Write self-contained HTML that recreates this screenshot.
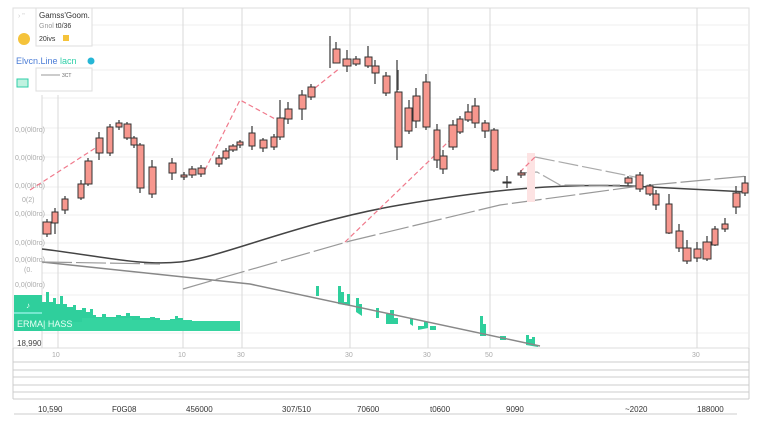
<!DOCTYPE html>
<html><head><meta charset="utf-8"><style>
body{margin:0;background:#fff;width:760px;height:426px;overflow:hidden;font-family:"Liberation Sans",sans-serif}
</style></head><body>
<svg width="760" height="426" viewBox="0 0 760 426" xmlns="http://www.w3.org/2000/svg" font-family="Liberation Sans, sans-serif">
<rect x="13" y="8" width="736" height="340" fill="#fff" stroke="#ddd"/>
<g stroke="#efefef" stroke-width="1">
<line x1="42" y1="25" x2="749" y2="25"/><line x1="42" y1="45" x2="749" y2="45"/><line x1="42" y1="70" x2="749" y2="70"/>
<line x1="42" y1="98" x2="749" y2="98"/><line x1="42" y1="128" x2="749" y2="128"/><line x1="42" y1="157" x2="749" y2="157"/>
<line x1="42" y1="187" x2="749" y2="187"/><line x1="42" y1="215" x2="749" y2="215"/><line x1="42" y1="243" x2="749" y2="243"/>
<line x1="42" y1="273" x2="749" y2="273"/><line x1="42" y1="295" x2="749" y2="295"/><line x1="42" y1="333" x2="749" y2="333"/>
</g>
<g stroke="#d8d8d8"><line x1="42" y1="95" x2="42" y2="348"/>
<line x1="58" y1="95" x2="58" y2="348"/><line x1="183" y1="8" x2="183" y2="348"/><line x1="242" y1="8" x2="242" y2="348"/>
<line x1="350" y1="8" x2="350" y2="348"/><line x1="428" y1="8" x2="428" y2="348"/><line x1="490" y1="8" x2="490" y2="348"/><line x1="697" y1="8" x2="697" y2="348"/></g>
<g font-size="7" fill="#aaa">
<text x="15" y="132">0,0(0l0ro)</text><text x="15" y="160">0,0(0l0ro)</text><text x="15" y="188">0,0(0l0ro)</text><text x="22" y="202">0(2)</text>
<text x="15" y="216">0,0(0l0ro)</text><text x="15" y="245">0,0(0l0ro)</text><text x="15" y="262">0,0(0l0ro)</text><text x="24" y="272">(0.</text><text x="15" y="287">0,0(0l0ro)</text>
<text x="52" y="357">10</text><text x="178" y="357">10</text><text x="237" y="357">30</text><text x="345" y="357">30</text><text x="423" y="357">30</text><text x="485" y="357">50</text><text x="692" y="357">30</text>
</g>
<!-- volume -->
<rect x="14" y="295" width="28" height="36" fill="#2fcf9c"/>
<line x1="14" y1="313" x2="42" y2="313" stroke="#bff" stroke-width="1"/>
<path d="M42 331V302h4v-10h3v10h4v-4h3v6h4v-8h3v8h4v3h6v-2h3v5h6v-2h4v4h4v-3h3v6h3v2h6v-3h4v3h10v-2h5v1h5v-3h4v3h10v2h10v-1h5v1h5v3h10v-2h5v-3h3v2h5v2h5v2h10v7z" fill="#2fcf9c"/>
<path d="M42 322h40v-4h50v2h60v1h48v10H42z" fill="#35d4a0"/>
<text x="17" y="327" font-size="9" fill="#e8fff5">ERMA| HASS</text>
<text x="26" y="308" font-size="8" fill="#e8fff5">♪</text>
<text x="17" y="346" font-size="8" fill="#444">18,990</text>
<path d="M316 296v-10h3v10zM338 304v-18h3v6h3v10h3v-8h3v12zM356 312v-14h3v6h3v12zM376 318v-10h3v10zM386 324v-10h4v-4h4v8h4v6zM410 324v-6h3v8zM418 330v-4h6v-4h4v6zM430 330v-4h6v4zM480 336v-20h3v8h3v12zM500 340v-4h6v4zM526 345v-10h3v4h3v-2h3v8h3v2z" fill="#2fcf9c"/>
<!-- trend lines -->
<path d="M42 262 L250 284 L540 346" stroke="#888" stroke-width="1.5" fill="none"/>
<path d="M42 249 C100 256 140 266 180 262 S300 222 400 205 S560 184 630 186 L748 192" stroke="#444" stroke-width="1.5" fill="none"/>
<path d="M42 262 L160 264" stroke="#999" stroke-width="1.2" fill="none" stroke-dasharray="30 4"/>
<path d="M183 289 L350 241 L500 205 L640 186 L748 176" stroke="#999" stroke-width="1.2" fill="none" stroke-dasharray="30 4"/>
<path d="M535 157 L640 178 M520 173 L537 172 L560 185 L620 185" stroke="#aaa" stroke-width="1.2" fill="none" stroke-dasharray="20 4"/>
<rect x="527" y="153" width="8" height="49" fill="#fde3e3"/>
<path d="M30 190 L97 147 M205 170 L240 100 L277 120 M315 88 L340 68 M345 242 L430 160 L450 140 M520 172 L535 157" stroke="#f07a8c" stroke-width="1.2" fill="none" stroke-dasharray="5 3"/>
<!-- candles -->
<g stroke="#444" stroke-width="1.3">
<path d="M47 219v18M55 208v26M65 196v18M81 180v20M88 158v28M99 132v28M110 124v32M119 120v10M127 122v18M134 136v12M140 143v50M152 160v38M172 158v22M184 172v8M192 166v12M201 165v12M219 155v12M226 148v12M233 144v8M240 140v8M252 126v24M263 138v14M274 134v16M280 100v40M288 102v22M302 90v30M311 84v16M330 36v32M336 42v8M347 50v22M356 56v10M368 46v22M375 60v24M386 72v24M397 60v100M398 70v20M409 100v34M416 88v40M426 74v56M437 124v44M443 150v24M453 120v30M460 116v18M468 104v18M475 98v30M485 120v18M494 128v44M507 176v12M521 170v8M628 176v10M640 172v20M650 184v12M656 190v20M669 194v40M679 224v28M687 240v24M697 242v20M707 236v25M715 226v20M725 218v14M736 186v28M745 176v20"/>
</g>
<g fill="#f7978e" stroke="#333" stroke-width="1">
<rect x="43" y="222" width="8" height="12"/><rect x="52" y="212" width="6" height="11"/><rect x="62" y="199" width="6" height="11"/>
<rect x="78" y="184" width="6" height="14"/><rect x="85" y="161" width="7" height="23"/><rect x="96" y="138" width="7" height="15"/>
<rect x="107" y="127" width="6" height="26"/><rect x="116" y="123" width="6" height="4"/><rect x="124" y="124" width="7" height="14"/>
<rect x="131" y="138" width="6" height="7"/><rect x="137" y="145" width="7" height="43"/><rect x="149" y="167" width="7" height="27"/>
<rect x="169" y="163" width="7" height="10"/><rect x="181" y="175" width="6" height="2"/><rect x="189" y="169" width="7" height="6"/>
<rect x="198" y="168" width="7" height="6"/><rect x="216" y="158" width="6" height="6"/><rect x="223" y="151" width="6" height="7"/>
<rect x="229" y="146" width="8" height="4"/><rect x="237" y="142" width="6" height="3"/><rect x="249" y="133" width="6" height="13"/>
<rect x="260" y="140" width="7" height="8"/><rect x="271" y="137" width="6" height="10"/><rect x="277" y="118" width="7" height="19"/>
<rect x="285" y="109" width="7" height="10"/><rect x="299" y="95" width="7" height="14"/><rect x="308" y="87" width="7" height="10"/>
<rect x="333" y="49" width="7" height="14"/><rect x="343" y="59" width="8" height="7"/><rect x="353" y="59" width="7" height="5"/>
<rect x="365" y="57" width="7" height="9"/><rect x="372" y="66" width="7" height="7"/><rect x="383" y="76" width="7" height="17"/>
<rect x="395" y="92" width="7" height="55"/><rect x="405" y="108" width="7" height="23"/><rect x="413" y="96" width="7" height="25"/>
<rect x="423" y="82" width="7" height="45"/><rect x="434" y="130" width="6" height="30"/><rect x="440" y="156" width="7" height="13"/>
<rect x="449" y="125" width="8" height="22"/><rect x="457" y="119" width="6" height="13"/><rect x="465" y="112" width="7" height="8"/>
<rect x="472" y="106" width="7" height="17"/><rect x="482" y="123" width="7" height="8"/><rect x="491" y="130" width="7" height="40"/>
<rect x="503" y="182" width="8" height="1"/><rect x="518" y="173" width="7" height="2"/><rect x="625" y="178" width="7" height="5"/>
<rect x="636" y="175" width="7" height="14"/><rect x="646" y="186" width="7" height="8"/><rect x="653" y="194" width="6" height="11"/>
<rect x="666" y="204" width="6" height="29"/><rect x="676" y="231" width="7" height="17"/><rect x="683" y="248" width="8" height="13"/>
<rect x="694" y="249" width="7" height="9"/><rect x="703" y="242" width="8" height="17"/><rect x="712" y="229" width="6" height="16"/>
<rect x="722" y="224" width="6" height="5"/><rect x="733" y="193" width="7" height="14"/><rect x="742" y="183" width="6" height="10"/>
</g>
<!-- legend -->
<rect x="36" y="8" width="56" height="38" fill="#fff" stroke="#ddd"/>
<text x="39" y="18" font-size="8" fill="#333">Gamss'Goom.</text>
<text x="39" y="28" font-size="7" fill="#999">Gnol <tspan fill="#333">t0/36</tspan></text>
<text x="39" y="41" font-size="7" fill="#333">20ivs</text><rect x="63" y="35" width="6" height="6" fill="#f5c33b"/>
<circle cx="24" cy="39" r="6" fill="#f5c33b"/>
<text x="16" y="64" font-size="9" fill="#4c7dd6">Elvcn.Line <tspan fill="#2fcfa8">lacn</tspan></text><circle cx="91" cy="61" r="3.5" fill="#26b6d6"/>
<rect x="36" y="68" width="56" height="23" fill="#fff" stroke="#ddd"/>
<line x1="41" y1="75" x2="60" y2="75" stroke="#999"/><text x="62" y="77" font-size="5" fill="#666">3CT</text>
<rect x="17" y="79" width="11" height="8" fill="#bff2e0" stroke="#2fcfa8"/>
<text x="18" y="18" font-size="7" fill="#ccc">› "</text>
<!-- bottom bands -->
<g stroke="#ccc"><line x1="13" y1="348" x2="13" y2="399"/><line x1="749" y1="348" x2="749" y2="399"/>
<line x1="13" y1="362" x2="749" y2="362"/><line x1="13" y1="370" x2="749" y2="370"/><line x1="13" y1="377" x2="749" y2="377"/>
<line x1="13" y1="385" x2="749" y2="385"/><line x1="13" y1="392" x2="749" y2="392"/><line x1="13" y1="399" x2="749" y2="399"/>
<line x1="14" y1="414" x2="737" y2="414"/></g>
<g font-size="8" fill="#333">
<text x="38" y="412">10,590</text><text x="112" y="412">F0G08</text><text x="186" y="412">456000</text><text x="282" y="412">307/510</text>
<text x="357" y="412">70600</text><text x="430" y="412">t0600</text><text x="506" y="412">9090</text><text x="625" y="412">~2020</text><text x="697" y="412">188000</text>
</g>
</svg>
</body></html>
